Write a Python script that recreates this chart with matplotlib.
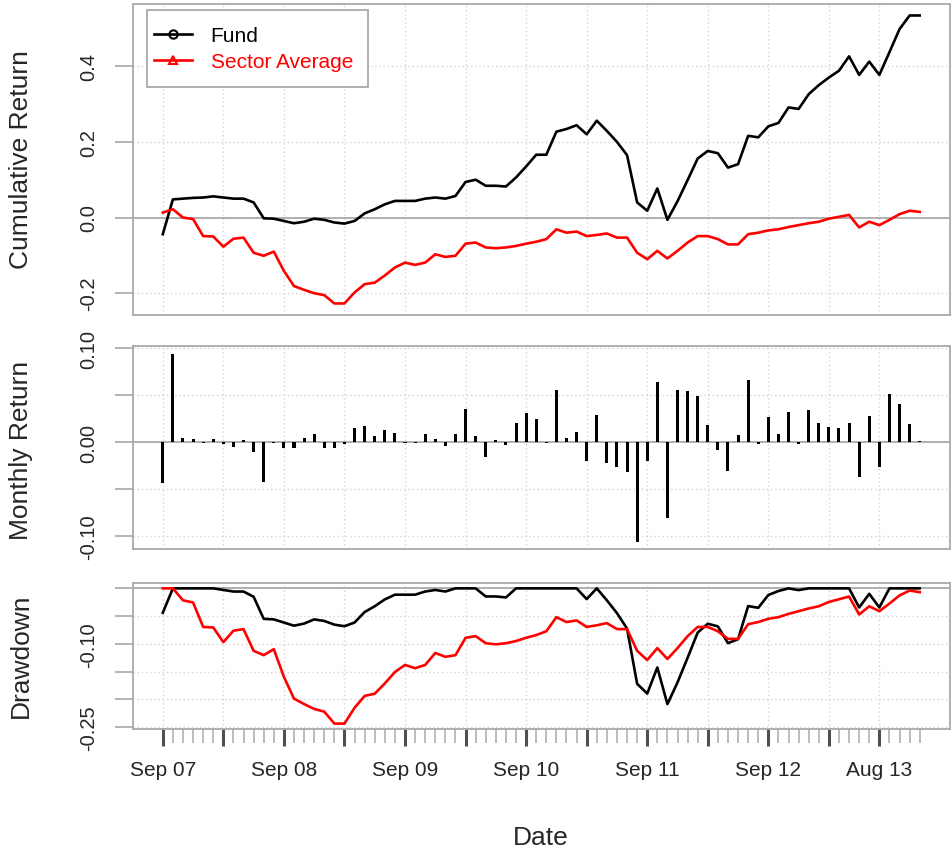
import numpy as np
import matplotlib.pyplot as plt
from matplotlib.lines import Line2D
from matplotlib.patches import Rectangle

plt.rcParams['font.family'] = ['Liberation Sans', 'DejaVu Sans']

# -------------------------------------------------------
# DATA (monthly, Sep 2007 .. Dec 2013)
# -------------------------------------------------------
fund_cum = [
    -0.044, 0.048, 0.050, 0.052, 0.053, 0.056, 0.053, 0.050, 0.050, 0.040,
    -0.002, -0.003, -0.009, -0.015, -0.011, -0.003, -0.006, -0.013, -0.016, -0.009,
    0.011, 0.022, 0.035, 0.044, 0.044, 0.044, 0.050, 0.053, 0.050, 0.057,
    0.094, 0.100, 0.084, 0.084, 0.082, 0.106, 0.135, 0.166, 0.166, 0.227,
    0.234, 0.244, 0.220, 0.256, 0.229, 0.200, 0.165, 0.040, 0.018, 0.077,
    -0.006, 0.043, 0.099, 0.156, 0.176, 0.170, 0.132, 0.141, 0.216, 0.212,
    0.241, 0.250, 0.291, 0.287, 0.326, 0.350, 0.370, 0.388, 0.426, 0.377,
    0.412, 0.377, 0.437, 0.498, 0.534, 0.534,
]

sector_cum = [
    0.013, 0.022, 0.000, -0.004, -0.049, -0.050, -0.077, -0.056, -0.053, -0.093,
    -0.101, -0.090, -0.141, -0.181, -0.191, -0.200, -0.205, -0.227, -0.227, -0.198,
    -0.176, -0.172, -0.153, -0.132, -0.119, -0.125, -0.119, -0.097, -0.104, -0.101,
    -0.069, -0.066, -0.079, -0.081, -0.079, -0.075, -0.069, -0.064, -0.057, -0.031,
    -0.040, -0.037, -0.049, -0.046, -0.042, -0.053, -0.053, -0.093, -0.110, -0.088,
    -0.108, -0.088, -0.066, -0.049, -0.049, -0.057, -0.071, -0.071, -0.044, -0.040,
    -0.034, -0.031, -0.025, -0.020, -0.015, -0.011, -0.003, 0.002, 0.007, -0.026,
    -0.011, -0.020, -0.006, 0.009, 0.018, 0.015,
]

fund_monthly = [
    -0.043, 0.094, 0.004, 0.0035, -0.001, 0.0035, -0.002, -0.005, 0.002, -0.010,
    -0.042, -0.001, -0.006, -0.006, 0.0045, 0.009, -0.006, -0.006, -0.002, 0.015,
    0.017, 0.0065, 0.0135, 0.010, -0.0007, -0.0007, 0.0085, 0.003, -0.0035, 0.0085,
    0.0355, 0.0065, -0.016, 0.0025, -0.003, 0.021, 0.031, 0.025, -0.001, 0.0557,
    0.0046, 0.0106, -0.0195, 0.029, -0.022, -0.026, -0.032, -0.106, -0.020, 0.064,
    -0.081, 0.0557, 0.054, 0.0496, 0.0188, -0.008, -0.031, 0.008, 0.066, -0.002,
    0.027, 0.0085, 0.0326, -0.002, 0.034, 0.021, 0.0167, 0.0149, 0.021, -0.037,
    0.028, -0.026, 0.051, 0.041, 0.019, 0.001,
]

# tick positions on the observation index (xts style)
major_idx = [0, 6, 12, 18, 24, 30, 36, 42, 48, 54, 60, 66, 71]
major_lab = ['Sep 07', '', 'Sep 08', '', 'Sep 09', '', 'Sep 10', '',
             'Sep 11', '', 'Sep 12', '', 'Aug 13']

series_names = ['Fund', 'Sector Average']
series_colors = ['black', 'red']

ELEM = '#a9a9a9'
GRID = '#d3d3d3'
TXT = '#262626'


def drawdown(cum):
    w = 1 + np.asarray(cum)
    peak = np.maximum.accumulate(np.concatenate([[1.0], w]))[1:]
    return w / peak - 1


def style_panel(ax, yticks, ylabels):
    for s in ax.spines.values():
        s.set_color(ELEM)
        s.set_linewidth(1.3)
    ax.set_xlim(-3, len(fund_cum) + 2)
    for x in major_idx:
        ax.axvline(x, color=GRID, ls=(0, (1, 2)), lw=1, zorder=0)
    for y in yticks:
        if abs(y) < 1e-9:
            ax.axhline(0, color=ELEM, lw=1.3, zorder=1)
        else:
            ax.axhline(y, color=GRID, ls=(0, (1, 2)), lw=1, zorder=0)
    ax.set_yticks(yticks)
    ax.set_yticklabels(ylabels)
    ax.tick_params(axis='y', length=13, width=1.2, color=ELEM, labelsize=14.5,
                   labelcolor=TXT, pad=12)
    for lbl in ax.get_yticklabels():
        lbl.set_rotation(90)
        lbl.set_va('center')
        lbl.set_ha('right')


months = np.arange(len(fund_cum))

fig = plt.figure(figsize=(9.52, 8.54), dpi=100)
ax1 = fig.add_axes([0.1392, 0.6300, 0.8587, 0.3642])
ax2 = fig.add_axes([0.1392, 0.3554, 0.8587, 0.2379])
ax3 = fig.add_axes([0.1392, 0.1452, 0.8587, 0.1710])

# --- cumulative return
for vals, col in zip([fund_cum, sector_cum], series_colors):
    ax1.plot(months, vals, color=col, lw=1.9, zorder=3)
lo = min(min(fund_cum), min(sector_cum))
hi = max(max(fund_cum), max(sector_cum))
ax1.set_ylim(lo - 0.04 * (hi - lo), hi + 0.04 * (hi - lo))
style_panel(ax1, [-0.2, 0.0, 0.2, 0.4], ['-0.2', '0.0', '0.2', '0.4'])

# legend box drawn by hand so its size matches
box = Rectangle((0.0181, 0.7322), 0.2696, 0.2485, transform=ax1.transAxes,
                facecolor='white', edgecolor=ELEM, lw=1.3, zorder=4)
ax1.add_patch(box)
handles = [
    Line2D([], [], color='black', lw=1.9, marker='o', mfc='none', ms=6, mew=1.5),
    Line2D([], [], color='red', lw=1.9, marker='^', mfc='none', ms=6, mew=1.5),
]
leg = ax1.legend(handles, series_names, loc='upper left',
                 bbox_to_anchor=(0.0265, 0.9293), borderaxespad=0,
                 fontsize=15, frameon=False, borderpad=0,
                 handlelength=1.83, handletextpad=0.88,
                 labelspacing=0.35, labelcolor=series_colors)
leg.set_zorder(5)

# --- monthly return
ax2.bar(months, fund_monthly, width=0.3, color='black', zorder=3)
lo, hi = min(fund_monthly), max(fund_monthly)
ax2.set_ylim(lo - 0.04 * (hi - lo), hi + 0.04 * (hi - lo))
style_panel(ax2, [-0.10, -0.05, 0.0, 0.05, 0.10],
            ['-0.10', '', '0.00', '', '0.10'])

# --- drawdown
dds = [drawdown(fund_cum), drawdown(sector_cum)]
for dd, col in zip(dds, series_colors):
    ax3.plot(months, dd, color=col, lw=1.9, zorder=3)
lo = min(d.min() for d in dds)
ax3.set_ylim(lo - 0.04 * (0 - lo), 0 + 0.04 * (0 - lo))
style_panel(ax3, [-0.25, -0.20, -0.15, -0.10, -0.05, 0.0],
            ['-0.25', '', '', '-0.10', '', ''])

for ax in (ax1, ax2):
    ax.tick_params(axis='x', which='both', bottom=False, labelbottom=False)

ax3.set_xticks(major_idx)
ax3.set_xticklabels(major_lab)
ax3.set_xticks(months, minor=True)
ax3.tick_params(axis='x', which='major', length=12, width=2.2, color='#505050',
                labelsize=15, labelcolor=TXT, pad=10)
ax3.tick_params(axis='x', which='minor', length=10, width=1.1, color=ELEM)

# --- titles
fig.text(21 / 952, 1 - 160 / 854, 'Cumulative Return', rotation=90,
         ha='center', va='center', fontsize=19, color=TXT)
fig.text(21 / 952, 1 - 450 / 854, 'Monthly Return', rotation=90,
         ha='center', va='center', fontsize=19, color=TXT)
fig.text(21 / 952, 1 - 656 / 854, 'Drawdown', rotation=90,
         ha='center', va='center', fontsize=19, color=TXT)
fig.text(541 / 952, 1 - 838 / 854, 'Date', ha='center', va='center',
         fontsize=19, color=TXT)

fig.savefig('out.png', dpi=100)
